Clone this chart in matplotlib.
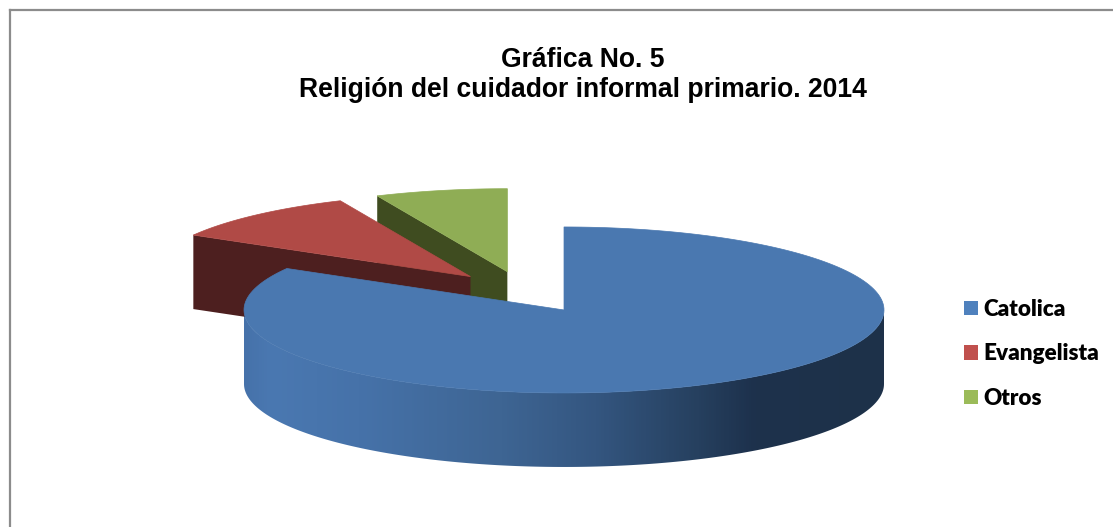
import matplotlib
matplotlib.use('Agg')
import matplotlib.pyplot as plt
from matplotlib.colors import LinearSegmentedColormap
from matplotlib.patches import Patch, Polygon
import numpy as np

# data
labels = ["Catolica", "Evangelista", "Otros"]
values = [25, 3, 2]
title = "Gráfica No. 5\nReligión del cuidador informal primario. 2014"

# colours
top_colors = ['#4a78b0', '#b04a46', '#8fad55']
cut_colors = [None, '#4d1f1f', '#3f4c20']
legend_colors = ['#4f81bd', '#c0504d', '#9bbb59']

# pie geometry, in pixels of the picture
cx, cy = 524, 292
rx, ry = 320, 83
depth = 74
explode = 0.25


def rim(x0, y0, t):
    return x0 + rx * np.sin(t), y0 - ry * np.cos(t)


fig = plt.figure(figsize=(11.13, 5.27), dpi=100, facecolor='white')
ax = fig.add_axes([0, 0, 1, 1])
ax.set_xlim(0, 1113)
ax.set_ylim(527, 0)
ax.axis('off')

# chart frame, only top and left are in the crop
ax.plot([10, 1113], [10, 10], color='#8c8c8c', linewidth=1.6)
ax.plot([10, 10], [10, 527], color='#8c8c8c', linewidth=1.6)

edges = np.cumsum([0] + values) / sum(values) * 2 * np.pi

# far slices first, Catolica last
for i in [2, 1, 0]:
    t0, t1 = edges[i], edges[i + 1]
    mid = (t0 + t1) / 2
    x0 = cx + explode * rx * np.sin(mid)
    y0 = cy - explode * ry * np.cos(mid)

    if cut_colors[i]:
        xe, ye = rim(x0, y0, t0)
        ax.add_patch(Polygon([(x0, y0), (xe, ye), (xe, ye + depth), (x0, y0 + depth)],
                             closed=True, facecolor=cut_colors[i], linewidth=0))
    else:
        # outer wall of the big slice, shaded left to right
        t = np.linspace(np.pi / 2, min(t1, 3 * np.pi / 2), 200)
        xs, ys = rim(x0, y0, t)
        wall = np.r_[np.c_[xs, ys], np.c_[xs[::-1], ys[::-1] + depth]]
        clip = Polygon(wall, closed=True, transform=ax.transData, facecolor='none', linewidth=0)
        ax.add_patch(clip)
        stops = [(0.00, '#4672aa'), (0.04, '#4a78b1'), (0.18, '#4672a9'), (0.40, '#3e6593'),
                 (0.55, '#345680'), (0.71, '#26405f'), (0.80, '#1d314c'), (1.00, '#1e3149')]
        cmap = LinearSegmentedColormap.from_list('wall', stops)
        img = ax.imshow(np.linspace(0, 1, 640)[None, :], cmap=cmap, aspect='auto',
                        extent=(x0 - rx, x0 + rx, y0 + ry + depth, y0))
        img.set_clip_path(clip)

    t = np.linspace(t0, t1, 200)
    xs, ys = rim(x0, y0, t)
    ax.add_patch(Polygon(np.r_[[(x0, y0)], np.c_[xs, ys]], closed=True,
                         facecolor=top_colors[i], edgecolor=top_colors[i], linewidth=0.5))

ax.set_xlim(0, 1113)
ax.set_ylim(527, 0)

ax.text(583, 75, title, ha='center', va='center', fontsize=19.1, fontweight='bold',
        family='Liberation Sans', linespacing=1.22, color='black')

handles = [Patch(facecolor=c, linewidth=0) for c in legend_colors]
ax.legend(handles, labels, loc='center left', bbox_to_anchor=(964, 354),
          bbox_transform=ax.transData, frameon=False, borderpad=0, borderaxespad=0,
          handlelength=0.62, handleheight=0.62, handletextpad=0.25, labelspacing=1.04,
          prop={'family': 'Lato', 'weight': 'heavy', 'size': 16.2})

plt.savefig('out.png', dpi=100)
